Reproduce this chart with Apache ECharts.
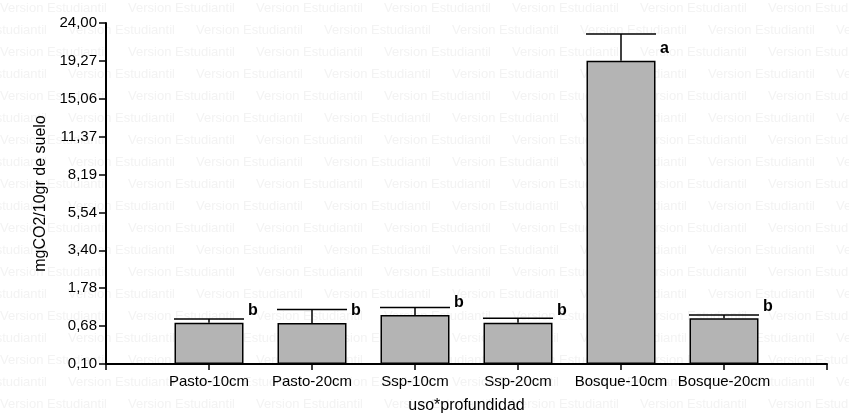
<!DOCTYPE html>
<html>
<head>
<meta charset="utf-8">
<script src="https://cdn.jsdelivr.net/npm/echarts@6/dist/echarts.min.js"></script>
<style>
  html, body { margin: 0; padding: 0; background: #fff; }
  #chart { width: 849px; height: 419px; }
</style>
</head>
<body>
<div id="chart"></div>
<script>
// Land use x depth treatments
const categories = ['Pasto-10cm', 'Pasto-20cm', 'Ssp-10cm', 'Ssp-20cm', 'Bosque-10cm', 'Bosque-20cm'];
// Mean respiration (mgCO2/10gr de suelo)
const means = [0.76, 0.75, 0.95, 0.76, 19.29, 0.87];
// Mean + standard error (top of the error bar)
const upperErr = [0.85, 1.10, 1.16, 0.87, 22.56, 0.95];
// Significance letters
const letters = ['b', 'b', 'b', 'b', 'a', 'b'];
// Y tick labels (square-root scale, evenly spaced)
const yTickLabels = ['0,10', '0,68', '1,78', '3,40', '5,54', '8,19', '11,37', '15,06', '19,27', '24,00'];

const Y_LO = 0.10, Y_HI = 24.00, N_STEPS = yTickLabels.length - 1;
// square-root transform onto 0..N_STEPS axis units
function toAxis(v) {
  return (Math.sqrt(v) - Math.sqrt(Y_LO)) / (Math.sqrt(Y_HI) - Math.sqrt(Y_LO)) * N_STEPS;
}

const axisCats = [''].concat(categories, ['']);
const barData = means.map((v, i) => [i + 1, toAxis(v)]);
const errData = means.map((v, i) => [i + 1, toAxis(v), toAxis(upperErr[i]), letters[i]]);

const BAR_W = 69;
const FONT = '"Liberation Sans", Arial, sans-serif';

// faint background watermark text
const watermark = [];
for (let r = 0; r * 22 < 430; r++) {
  const off = (r % 2) ? -60 : 0;
  for (let c = 0; c < 9; c++) {
    watermark.push({
      type: 'text', z: -10, silent: true,
      x: off + c * 128, y: 2 + r * 22,
      style: { text: 'Version Estudiantil', fill: '#f3f3f3', font: '13px ' + FONT }
    });
  }
}

const chart = echarts.init(document.getElementById('chart'), null, { renderer: 'canvas' });
chart.setOption({
  backgroundColor: '#ffffff',
  animation: false,
  graphic: watermark,
  grid: { left: 106, right: 22, top: 23, bottom: 53, containLabel: false },
  xAxis: {
    type: 'category',
    data: axisCats,
    boundaryGap: false,
    name: 'uso*profundidad',
    nameLocation: 'middle',
    nameGap: 34,
    nameTextStyle: { color: '#000', fontSize: 16, fontFamily: FONT },
    axisLine: { lineStyle: { color: '#000', width: 2 } },
    axisTick: { show: true, length: 6, lineStyle: { color: '#000', width: 1.5 } },
    axisLabel: { color: '#000', fontSize: 15, fontFamily: FONT, margin: 10, interval: 0 },
    splitLine: { show: false }
  },
  yAxis: {
    type: 'value',
    min: 0, max: N_STEPS, interval: 1,
    name: 'mgCO2/10gr de suelo',
    nameLocation: 'middle',
    nameGap: 54,
    nameTextStyle: { color: '#000', fontSize: 16, fontFamily: FONT },
    axisLine: { show: true, lineStyle: { color: '#000', width: 2 } },
    axisTick: { show: true, length: 7, lineStyle: { color: '#000', width: 1.5 } },
    axisLabel: {
      color: '#000', fontSize: 15, fontFamily: FONT, margin: 9,
      formatter: v => yTickLabels[Math.round(v)]
    },
    splitLine: { show: false }
  },
  series: [
    {
      type: 'bar',
      data: barData,
      barWidth: BAR_W,
      itemStyle: { color: '#b4b4b4', borderColor: '#000', borderWidth: 1.5 },
      z: 2
    },
    {
      type: 'custom',
      data: errData,
      z: 3,
      renderItem: function (params, api) {
        const x = api.value(0);
        const top = api.coord([x, api.value(1)]);
        const hi = api.coord([x, api.value(2)]);
        const half = BAR_W / 2 + 0.5;
        return {
          type: 'group',
          children: [
            { type: 'line', shape: { x1: top[0], y1: top[1], x2: hi[0], y2: hi[1] },
              style: { stroke: '#000', lineWidth: 1.5 } },
            { type: 'line', shape: { x1: hi[0] - half, y1: hi[1], x2: hi[0] + half, y2: hi[1] },
              style: { stroke: '#000', lineWidth: 1.5 } },
            { type: 'text', x: top[0] + half + 4, y: top[1] - 12,
              style: { text: api.value(3), fill: '#000', font: 'bold 16px ' + FONT,
                       verticalAlign: 'middle', align: 'left' } }
          ]
        };
      }
    }
  ]
});
</script>
</body>
</html>
